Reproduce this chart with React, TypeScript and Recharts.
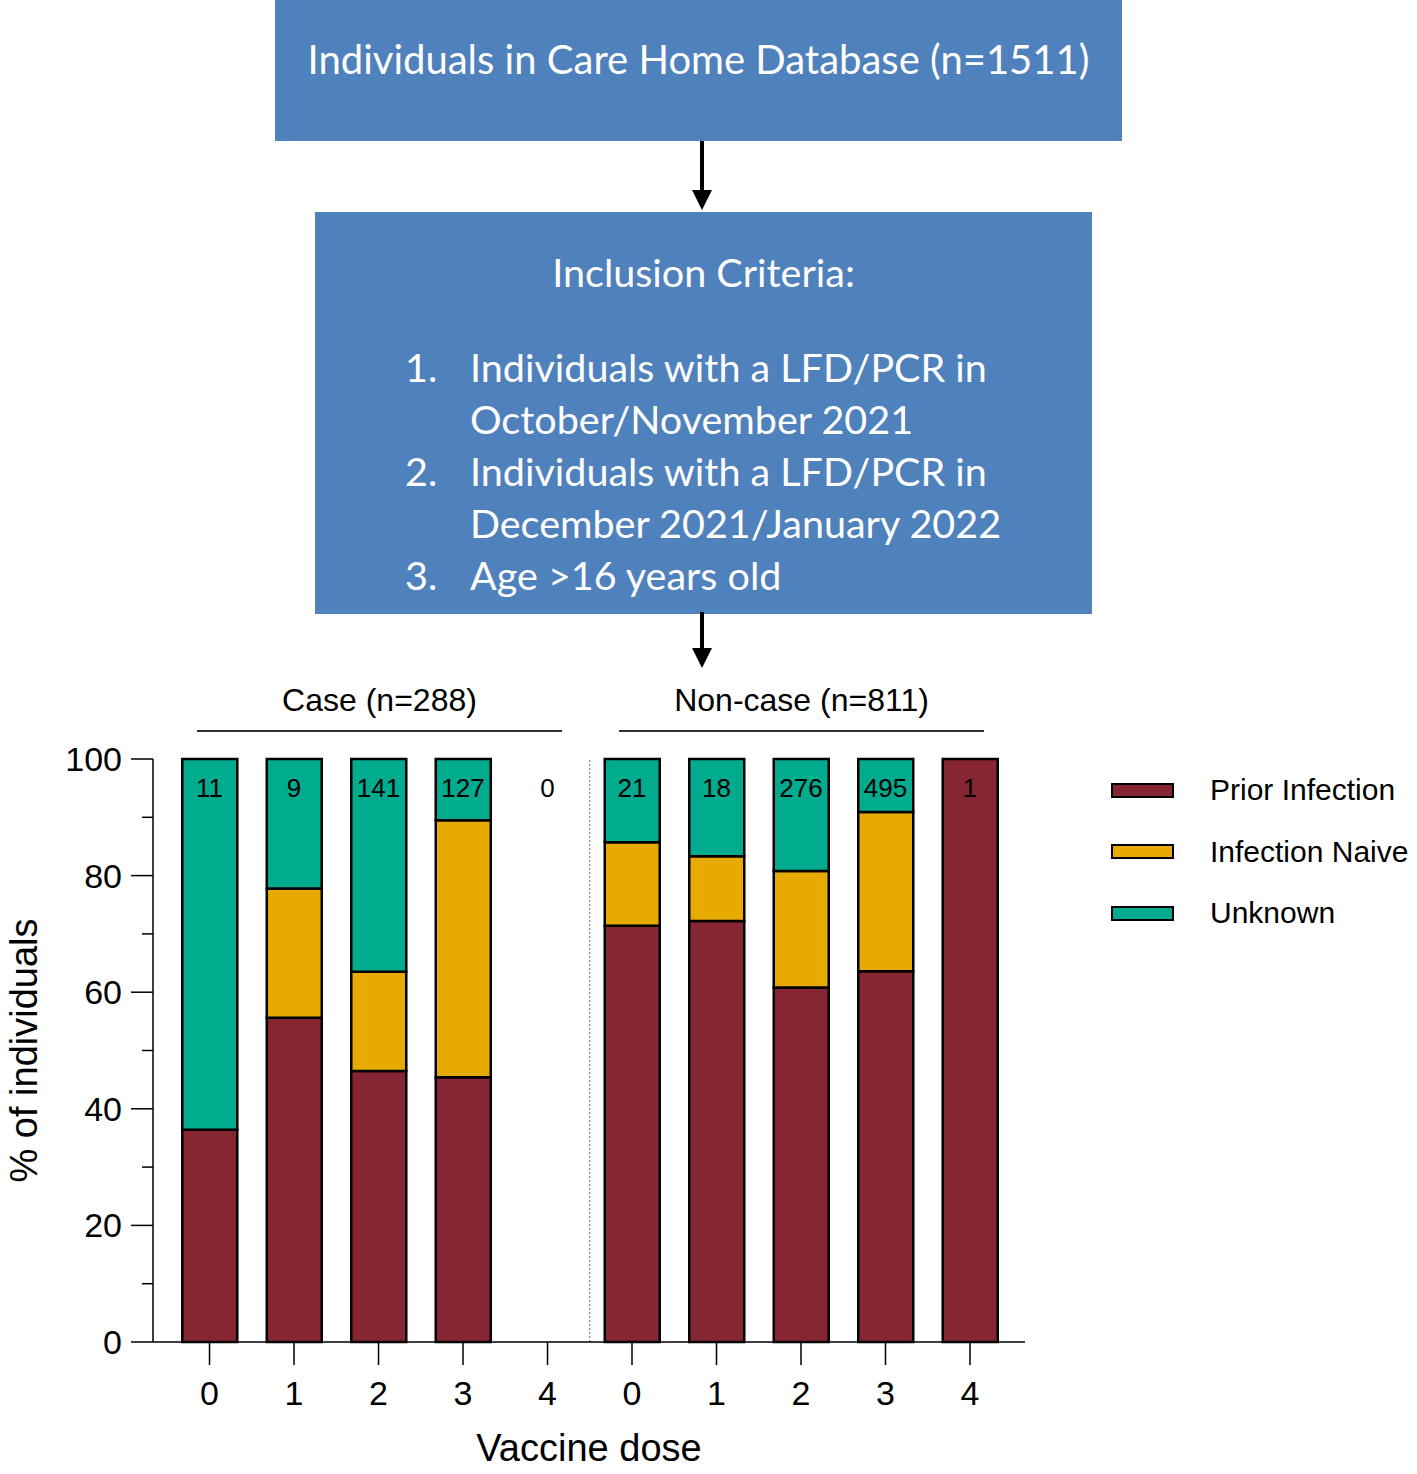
import React from "react";
import { BarChart, Bar, XAxis, YAxis, ReferenceLine } from "recharts";

// chart values (percent of individuals per vaccine dose)
const doseLabels = ["0", "1", "2", "3", "4", "0", "1", "2", "3", "4"];
const priorInfection = [36.4, 55.6, 46.5, 45.4, 0, 71.4, 72.2, 60.8, 63.6, 100];
const infectionNaive = [0, 22.2, 17.0, 44.1, 0, 14.3, 11.1, 20.0, 27.3, 0];
const unknownStatus = [63.6, 22.2, 36.5, 10.5, 0, 14.3, 16.7, 19.2, 9.1, 0];
const groupTotals = [11, 9, 141, 127, 0, 21, 18, 276, 495, 1];
const yTicks = [0, 10, 20, 30, 40, 50, 60, 70, 80, 90, 100];
const groupHeaders = ["Case (n=288)", "Non-case (n=811)"];
const criteria = [
  ["1.", "Individuals with a LFD/PCR in", "October/November 2021"],
  ["2.", "Individuals with a LFD/PCR in", "December 2021/January 2022"],
  ["3.", "Age >16 years old"],
];

const series = [
  { key: "prior", name: "Prior Infection", color: "#872633" },
  { key: "naive", name: "Infection Naive", color: "#E7AA00" },
  { key: "unknown", name: "Unknown", color: "#00AB8E" },
];

const data = doseLabels.map((dose, i) => ({
  idx: i,
  dose,
  prior: priorInfection[i],
  naive: infectionNaive[i],
  unknown: unknownStatus[i],
  n: groupTotals[i],
}));

const FONT = "'Liberation Sans', Arial, Helvetica, sans-serif";
const BOX_FONT = "Lato, 'Open Sans', sans-serif";
const BLUE = "#4F81BD";
const CHART_TOP = 660;
const MARGIN = { top: 99, right: 392, bottom: 7, left: 0 };
const X_DOMAIN = [-0.669, 9.651];

const YTick = (props: any) => {
  const { x, y, payload } = props;
  const major = payload.value % 20 === 0;
  return (
    <g>
      <line x1={x - (major ? 22 : 11)} x2={x} y1={y} y2={y} stroke="#000" strokeWidth={1.5} />
      {major && (
        <text x={x - 31} y={y} textAnchor="end" dominantBaseline="central" fontSize={34} fontFamily={FONT} fill="#000">
          {payload.value}
        </text>
      )}
    </g>
  );
};

const YLabel = (props: any) => {
  const { viewBox } = props;
  const cx = viewBox.x + 24;
  const cy = viewBox.y + viewBox.height / 2;
  return (
    <text x={cx} y={cy} transform={`rotate(-90 ${cx} ${cy})`} textAnchor="middle" dominantBaseline="central" fontSize={38} fontFamily={FONT} fill="#000">
      % of individuals
    </text>
  );
};

const Arrow = ({ top, height }: { top: number; height: number }) => (
  <svg style={{ position: "absolute", left: 690, top }} width={24} height={height}>
    <line x1={12} x2={12} y1={0} y2={height - 16} stroke="#000" strokeWidth={4} />
    <polygon points={`2,${height - 20} 22,${height - 20} 12,${height}`} fill="#000" />
  </svg>
);

export default function App() {
  return (
    <div style={{ position: "absolute", left: 0, top: 0, width: 1417, height: 1474, background: "#fff" }}>
      {/* flow chart */}
      <div
        style={{
          position: "absolute", left: 275, top: 0, width: 847, height: 141, background: BLUE,
          color: "#fff", fontFamily: BOX_FONT, fontSize: 40, textAlign: "center", lineHeight: "118px",
        }}
      >
        Individuals in Care Home Database (n=1511)
      </div>
      <Arrow top={141} height={69} />
      <div style={{ position: "absolute", left: 315, top: 212, width: 777, height: 402, background: BLUE, color: "#fff", fontFamily: BOX_FONT, fontSize: 39.5 }}>
        <div style={{ position: "absolute", top: 34, left: 0, width: "100%", textAlign: "center", lineHeight: "52px" }}>
          Inclusion Criteria:
        </div>
        <div style={{ position: "absolute", top: 129, left: 90, lineHeight: "52px" }}>
          {criteria.map((c) => (
            <div key={c[0]} style={{ display: "flex" }}>
              <div style={{ width: 65 }}>{c[0]}</div>
              <div>
                {c.slice(1).map((t) => (
                  <div key={t}>{t}</div>
                ))}
              </div>
            </div>
          ))}
        </div>
      </div>
      <Arrow top={612} height={56} />

      {/* group headers */}
      {groupHeaders.map((g, i) => (
        <div key={g} style={{ position: "absolute", left: i === 0 ? 197 : 619, top: 680, width: 365 }}>
          <div style={{ textAlign: "center", fontFamily: FONT, fontSize: 32, lineHeight: "40px", color: "#000" }}>{g}</div>
          <div style={{ marginTop: 10, height: 1.5, background: "#333" }} />
        </div>
      ))}

      <div style={{ position: "absolute", left: 0, top: CHART_TOP }}>
        <BarChart width={1417} height={814} data={data} margin={MARGIN} barSize={55}>
          <XAxis
            dataKey="idx"
            type="number"
            domain={X_DOMAIN}
            ticks={data.map((d) => d.idx)}
            interval={0}
            tickFormatter={(v: number) => doseLabels[v]}
            height={125}
            tickSize={23}
            tickMargin={16}
            axisLine={{ stroke: "#000", strokeWidth: 1.5 }}
            tickLine={{ stroke: "#000", strokeWidth: 1.5 }}
            tick={{ fill: "#000", fontSize: 34, fontFamily: FONT }}
            label={{ value: "Vaccine dose", position: "insideBottom", offset: 6, fill: "#000", fontSize: 38, fontFamily: FONT }}
          />
          <YAxis
            type="number"
            domain={[0, 100]}
            ticks={yTicks}
            interval={0}
            width={153}
            tickSize={0}
            tickMargin={0}
            tickLine={false}
            axisLine={{ stroke: "#000", strokeWidth: 1.5 }}
            tick={<YTick />}
            label={<YLabel />}
          />
          <ReferenceLine x={4.5} stroke="#666" strokeWidth={1} strokeDasharray="2 2" />
          {series.map((s) => (
            <Bar
              key={s.key}
              dataKey={s.key}
              name={s.name}
              stackId="a"
              fill={s.color}
              stroke="#000"
              strokeWidth={2.5}
              isAnimationActive={false}
            />
          ))}
          {/* group sizes shown along the top of the plot */}
          <XAxis
            xAxisId="n"
            dataKey="idx"
            type="number"
            orientation="top"
            mirror
            domain={X_DOMAIN}
            ticks={data.map((d) => d.idx)}
            interval={0}
            tickFormatter={(v: number) => String(groupTotals[v])}
            height={1}
            tickSize={0}
            tickMargin={20}
            axisLine={false}
            tickLine={false}
            tick={{ fill: "#000", fontSize: 26, fontFamily: FONT }}
          />
        </BarChart>
      </div>

      {/* legend */}
      {series.map((s, i) => (
        <div key={s.key} style={{ position: "absolute", left: 1111, top: 770 + i * 61.5, height: 40, display: "flex", alignItems: "center" }}>
          <div style={{ width: 63, height: 15, background: s.color, border: "2.5px solid #000", boxSizing: "border-box" }} />
          <div style={{ marginLeft: 36, fontFamily: FONT, fontSize: 30, color: "#000" }}>{s.name}</div>
        </div>
      ))}
    </div>
  );
}
